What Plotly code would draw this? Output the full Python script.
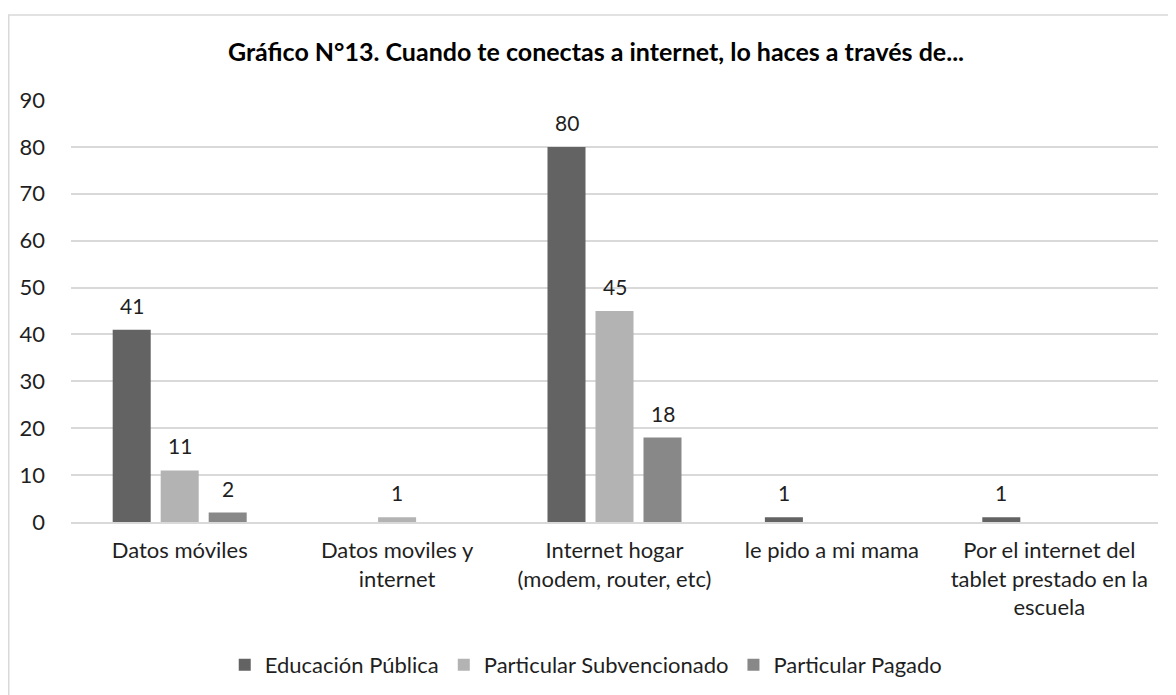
import plotly.graph_objects as go

categories = [
    "Datos móviles",
    "Datos moviles y<br>internet",
    "Internet hogar<br>(modem, router, etc)",
    "le pido a mi mama",
    "Por el internet del<br>tablet prestado en la<br>escuela",
]
series_names = ["Educación Pública", "Particular Subvencionado", "Particular Pagado"]
educacion_publica = [41, 0, 80, 1, 1]
particular_subvencionado = [11, 1, 45, 0, 0]
particular_pagado = [2, 0, 18, 0, 0]
y_ticks = [0, 10, 20, 30, 40, 50, 60, 70, 80, 90]

colors = ["#636363", "#b3b3b3", "#888888"]
FONT = "Lato"
TXT = "#1f1f1f"
BARGAP = 0.3376

fig = go.Figure()
series = [educacion_publica, particular_subvencionado, particular_pagado]
for name, vals, col in zip(series_names, series, colors):
    fig.add_trace(go.Bar(
        x=list(range(len(categories))), y=vals, name=name,
        marker_color=col, marker_line_width=0,
    ))

# data labels above each non-zero bar, placed at the bar's slot in the group
slot = (1 - BARGAP) / len(series)
annotations = []
for k, vals in enumerate(series):
    for i, v in enumerate(vals):
        if v:
            annotations.append(dict(
                x=i + (k - 1) * slot, y=v, xref="x", yref="y", text=str(v),
                showarrow=False, yanchor="bottom", yshift=10,
                font=dict(size=21, color=TXT, family=FONT)))

fig.update_layout(
    width=1176, height=695,
    margin=dict(l=63, r=26, t=92, b=181),
    paper_bgcolor="white", plot_bgcolor="white",
    font=dict(family=FONT, size=22, color=TXT),
    barmode="group", bargap=BARGAP, bargroupgap=0.208,
    title=dict(text="<b>Gráfico N°13. Cuando te conectas a internet, lo haces a través de...</b>",
               x=0.5, xref="container", y=0.9367, yanchor="middle",
               font=dict(size=25, color="#000000", family=FONT)),
    legend=dict(orientation="h", x=0.474, xanchor="center", y=-0.339, yanchor="middle",
                font=dict(size=22, color=TXT), traceorder="normal"),
    showlegend=True,
    annotations=annotations,
    shapes=[dict(type="rect", xref="paper", yref="paper", x0=-0.0573, x1=1.2,
                 y0=-0.6, y1=1.2014, line=dict(color="#d9d9d9", width=1.5))],
)
fig.update_yaxes(range=[0, 90], tickvals=y_ticks, showgrid=True, gridcolor="#d9d9d9",
                 gridwidth=1.5, zeroline=False, showline=False, ticks="",
                 tickfont=dict(size=22, color=TXT), ticklabelstandoff=25,
                 automargin=False)
fig.update_xaxes(range=[-0.5, len(categories) - 0.5],
                 tickvals=list(range(len(categories))), ticktext=categories,
                 showline=True, linecolor="#d9d9d9", linewidth=1.5, ticks="",
                 showgrid=False, zeroline=False, automargin=False,
                 tickfont=dict(size=22, color=TXT), ticklabelstandoff=8)

fig.write_html("out.html")
